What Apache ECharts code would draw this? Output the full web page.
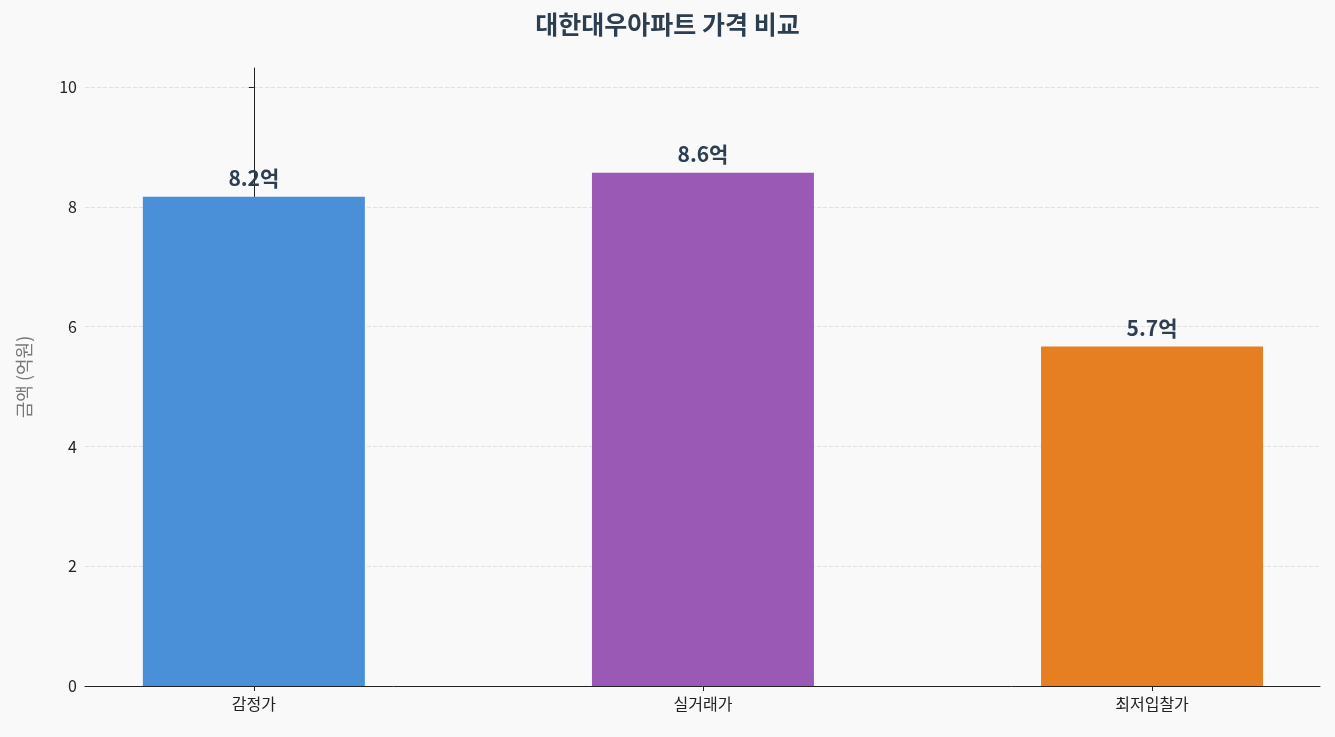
<!DOCTYPE html>
<html><head><meta charset="utf-8">
<script src="https://cdn.jsdelivr.net/npm/echarts@6/dist/echarts.min.js"></script>
<style>html,body{margin:0;background:#f9f9f9}#c{width:1335px;height:737px}</style>
</head><body><div id="c"></div>
<script>
const categories = ['감정가', '실거래가', '최저입찰가'];
const values = [8.17, 8.57, 5.67];
const labels = ['8.2억', '8.6억', '5.7억'];
const colors = ['#4a90d9', '#9b59b6', '#e67e22'];
const F = '"Noto Sans CJK KR", "Noto Sans", sans-serif';
const chart = echarts.init(document.getElementById('c'));
chart.setOption({
  backgroundColor: '#f9f9f9',
  textStyle: {fontFamily: F},
  title: {text: '대한대우아파트 가격 비교', left: 'center', top: 7,
    textStyle: {fontFamily: F, fontSize: 25, fontWeight: 'bold', color: '#2c3e50'}},
  grid: {left: 85, right: 15, top: 68, bottom: 51},
  xAxis: {type: 'value', min: -0.376, max: 2.374,
    axisLine: {lineStyle: {color: '#222'}},
    axisTick: {show: true, customValues: [0, 1, 2], lineStyle: {color: '#222'}},
    axisLabel: {color: '#222', fontSize: 16, margin: 10, customValues: [0, 1, 2],
      formatter: v => categories[Math.round(v)]},
    splitLine: {show: false}},
  yAxis: {type: 'value', min: 0, max: 10.32, interval: 2,
    name: '금액 (억원)', nameLocation: 'middle', nameGap: 52, nameRotate: 90,
    nameTextStyle: {color: '#777', fontSize: 18},
    axisLine: {show: true, lineStyle: {color: '#222'}}, axisTick: {show: true, lineStyle: {color: '#222'}},
    axisLabel: {color: '#222', fontSize: 16, showMaxLabel: false},
    splitLine: {show: true, showMaxLine: false, lineStyle: {type: 'dashed', color: '#e0e0e0'}}},
  series: [{type: 'bar', barWidth: 222,
    data: values.map((v, i) => ({value: [i, v], itemStyle: {color: colors[i]}})),
    label: {show: true, position: 'top', distance: 8, formatter: p => labels[p.dataIndex],
      fontFamily: F, fontSize: 21, fontWeight: 'bold', color: '#2c3e50'}}]
});
</script></body></html>
